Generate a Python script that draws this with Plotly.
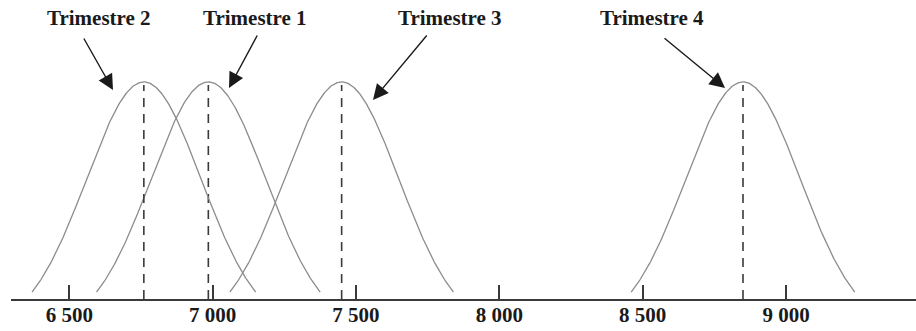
import numpy as np
import plotly.graph_objects as go

# Quarterly sales distributions: mean of each quarter and common spread
quarters = ["Trimestre 1", "Trimestre 2", "Trimestre 3", "Trimestre 4"]
means = [6985, 6760, 7450, 8850]
sigma = 200
half_span = 390  # curves are drawn over mean ± half_span

tick_values = [6500, 7000, 7500, 8000, 8500, 9000]
tick_labels = ["6 500", "7 000", "7 500", "8 000", "8 500", "9 000"]

W, H = 916, 331
ML, MR, MT, MB = 11, 0, 0, 32
PW, PH = W - ML - MR, H - MT - MB

peak = 1.0 / (sigma * np.sqrt(2 * np.pi))
# the baseline axis sits a little above the density's zero level
y_lo, y_hi = 0.1213 * peak, 1.3316 * peak

x_lo = 6500 - (69.3 - ML) / 0.28668
x_hi = x_lo + PW / 0.28668


def px(xp):
    return (xp - ML) / PW


def py(yp):
    return 1 - (yp - MT) / PH


fig = go.Figure()

for mu in means:
    xs = np.linspace(mu - half_span, mu + half_span, 300)
    ys = np.exp(-0.5 * ((xs - mu) / sigma) ** 2) / (sigma * np.sqrt(2 * np.pi))
    fig.add_trace(go.Scatter(x=xs, y=ys, mode="lines",
                             line=dict(color="#8c8c8c", width=1.3),
                             hoverinfo="skip", showlegend=False))
    fig.add_trace(go.Scatter(x=[mu, mu], y=[y_lo, 0.988 * peak], mode="lines",
                             line=dict(color="#3a3a3a", width=1.6, dash="9px,7px"),
                             hoverinfo="skip", showlegend=False))

# Label positions (pixels): text centre, arrow tail, arrow head
label_pos = {
    "Trimestre 1": ((255, 18), (258, 34), (229, 88)),
    "Trimestre 2": ((99, 18), (83, 37), (113, 90)),
    "Trimestre 3": ((450, 18), (428, 34), (373, 100)),
    "Trimestre 4": ((652, 18), (663, 37), (725, 88)),
}

font = dict(family="Liberation Serif, Times New Roman, serif", size=21, color="#1a1a1a")
for q in quarters:
    (tx, ty), (ax, ay), (hx, hy) = label_pos[q]
    fig.add_annotation(text="<b>%s</b>" % q, x=px(tx), y=py(ty), xref="paper", yref="paper",
                       showarrow=False, font=font, xanchor="center", yanchor="middle")
    fig.add_annotation(text="", x=px(hx), y=py(hy), xref="paper", yref="paper",
                       ax=ax - hx, ay=ay - hy, showarrow=True, arrowhead=2,
                       arrowsize=2.2, arrowwidth=1.4, arrowcolor="#1a1a1a", standoff=0)

fig.update_layout(
    width=W, height=H,
    margin=dict(l=ML, r=MR, t=MT, b=MB),
    paper_bgcolor="white", plot_bgcolor="white",
    xaxis=dict(range=[x_lo, x_hi], showgrid=False, zeroline=False,
               showline=True, linecolor="#3a3a3a", linewidth=2,
               ticks="inside", ticklen=14, tickwidth=1.5, tickcolor="#3a3a3a",
               tickvals=tick_values, ticktext=["<b>%s</b>" % t for t in tick_labels],
               tickfont=font, ticklabelstandoff=-4),
    yaxis=dict(range=[y_lo, y_hi], visible=False),
)

fig.write_html("out.html")
